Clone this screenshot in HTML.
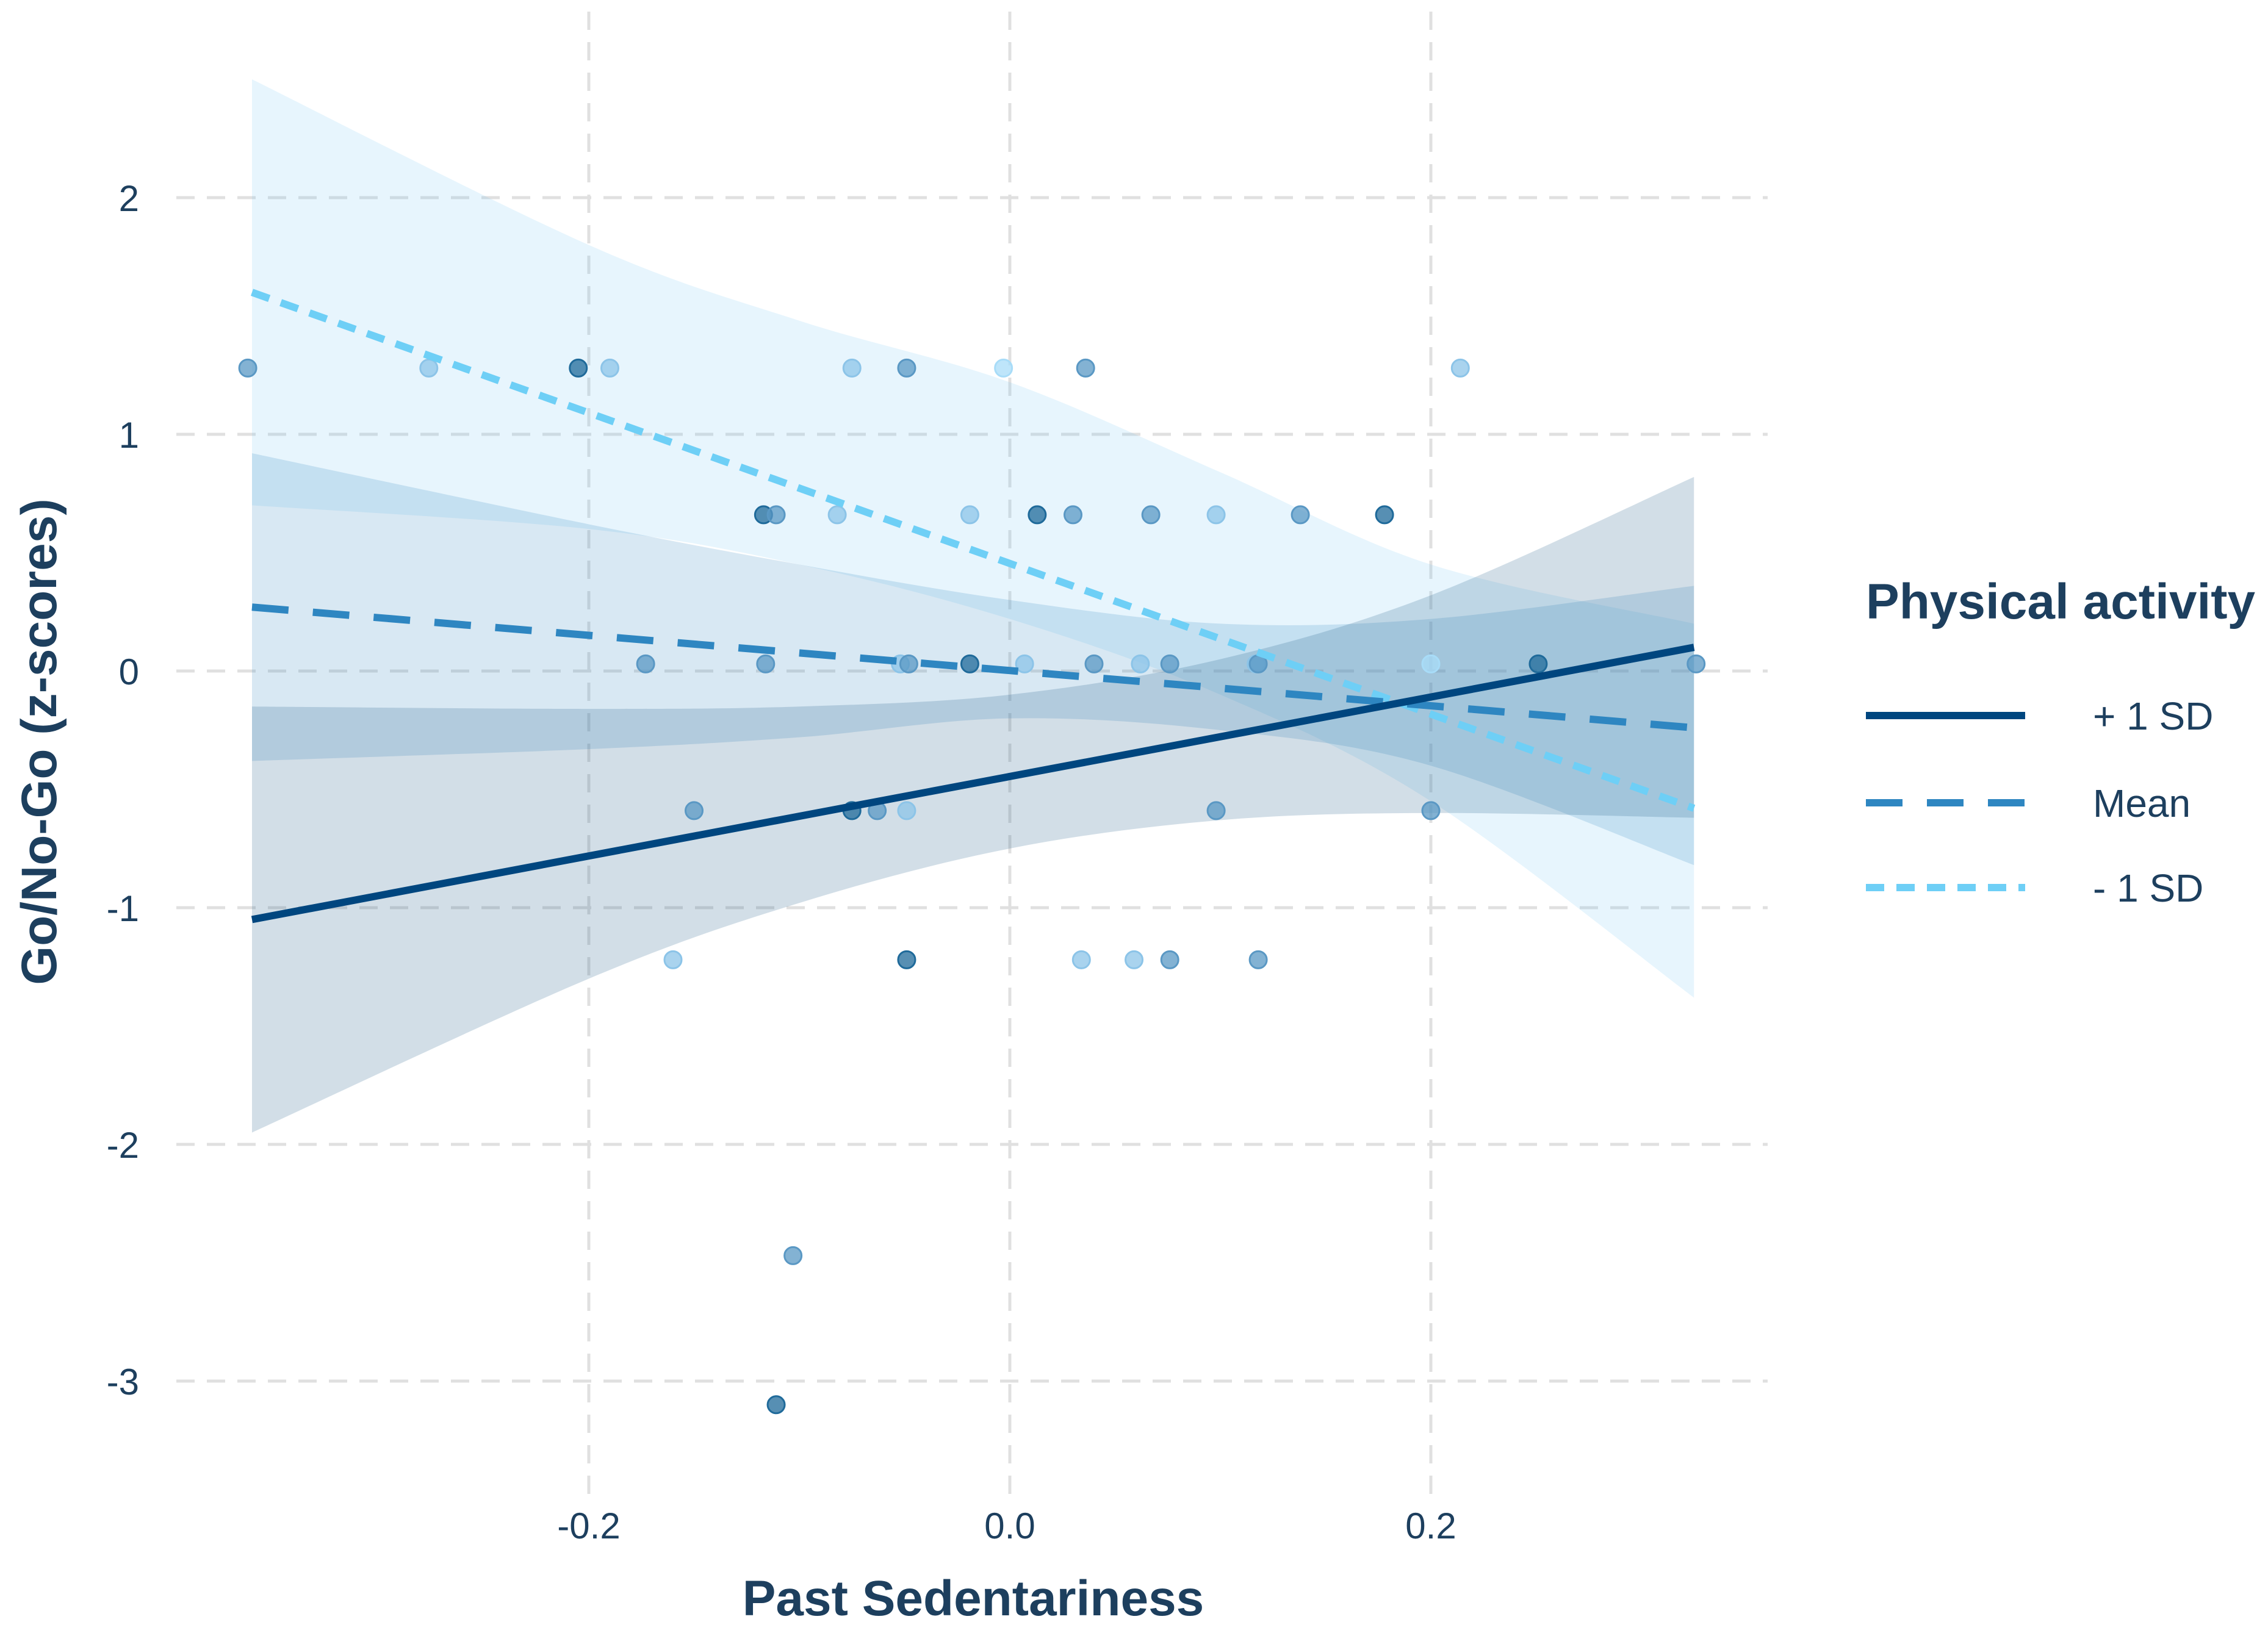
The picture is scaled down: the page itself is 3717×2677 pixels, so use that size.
<!DOCTYPE html>
<html><head><meta charset="utf-8"><style>
html,body{margin:0;padding:0;background:#fff;}
svg{display:block;font-family:"Liberation Sans",sans-serif;}
</style></head><body>
<svg id="chart" width="3717" height="2677" viewBox="0 0 3717 2677" xmlns="http://www.w3.org/2000/svg">
<g id="grid"></g>
<g id="ribbons"></g>
<g id="points"></g>
<g id="lines"></g>
<g id="axes"></g>
<text x="1595" y="2648" font-size="82" font-weight="bold" fill="#1d3f5e" text-anchor="middle">Past Sedentariness</text>
<text transform="translate(92,1216) rotate(-90)" font-size="82" font-weight="bold" fill="#1d3f5e" text-anchor="middle">Go/No-Go (z-scores)</text>
<g>
<text x="3058" y="1014" font-size="82" font-weight="bold" fill="#1d3f5e">Physical activity</text>
<line x1="3058" y1="1173" x2="3319" y2="1173" stroke="#00467f" stroke-width="12"/>
<text x="3430" y="1196" font-size="64" fill="#1d3f5e">+ 1 SD</text>
<line x1="3058" y1="1316" x2="3319" y2="1316" stroke="#2e86c1" stroke-width="12" stroke-dasharray="60,40"/>
<text x="3430" y="1339" font-size="64" fill="#1d3f5e">Mean</text>
<line x1="3058" y1="1455" x2="3319" y2="1455" stroke="#6ecff6" stroke-width="12" stroke-dasharray="30,20"/>
<text x="3430" y="1478" font-size="64" fill="#1d3f5e">- 1 SD</text>
</g>
</svg>
<script>
const xTicks=[-0.2,0.0,0.2];
const xTickLabels=["-0.2","0.0","0.2"];
const yTicks=[2,1,0,-1,-2,-3];
const yTickLabels=["2","1","0","-1","-2","-3"];
const bandX=[-0.36,-0.2,-0.1,0,0.1,0.2,0.325];
const lowUpper=[2.5,1.8,1.48,1.22,0.84,0.45,0.2];
const lowLower=[0.7,0.6,0.45,0.22,-0.1,-0.55,-1.38];
const meanUpper=[0.92,0.62,0.45,0.3,0.2,0.22,0.36];
const meanLower=[-0.38,-0.33,-0.28,-0.2,-0.25,-0.4,-0.82];
const highUpper=[-0.15,-0.16,-0.15,-0.1,0.05,0.32,0.82];
const highLower=[-1.95,-1.3,-0.98,-0.75,-0.63,-0.6,-0.62];
const lineX=[-0.36,0.325];
const highLine=[-1.05,0.1];
const meanLine=[0.27,-0.24];
const lowLine=[1.6,-0.58];
const ptX=[-0.362,-0.276,-0.205,-0.190,-0.075,-0.049,-0.003,0.036,0.214,
-0.117,-0.111,-0.082,-0.019,0.013,0.030,0.067,0.098,0.138,0.178,
-0.173,-0.116,-0.052,-0.048,-0.019,0.007,0.040,0.062,0.076,0.117,0.118,0.200,0.251,0.326,
-0.150,-0.075,-0.063,-0.049,0.098,0.200,
-0.160,-0.049,0.034,0.059,0.076,0.118,
-0.103,-0.111];
const ptY=[1.28,1.28,1.28,1.28,1.28,1.28,1.28,1.28,1.28,
0.66,0.66,0.66,0.66,0.66,0.66,0.66,0.66,0.66,0.66,
0.03,0.03,0.03,0.03,0.03,0.03,0.03,0.03,0.03,0.03,0.03,0.03,0.03,0.03,
-0.59,-0.59,-0.59,-0.59,-0.59,-0.59,
-1.22,-1.22,-1.22,-1.22,-1.22,-1.22,
-2.47,-3.1];
const ptGroup=[1,2,0,2,2,1,3,1,2, 0,1,2,2,0,1,1,2,1,0, 1,1,2,1,0,2,1,2,1,2,1,3,0,1, 1,0,1,2,1,1, 2,0,2,2,1,1, 1,0];
const groupColors=["#1f6a9a","#5a98c4","#8cc4e8","#a8dcf8"];
const NS="http://www.w3.org/2000/svg";
const xs=v=>1655+v*3450;
const ys=v=>1100-v*388;
function mk(tag,attrs,parent){const e=document.createElementNS(NS,tag);for(const k in attrs)e.setAttribute(k,attrs[k]);parent.appendChild(e);return e;}
const grid=document.getElementById('grid');
yTicks.forEach((t,i)=>{
 const l=mk('line',{x1:289,x2:2897,y1:ys(t),y2:ys(t),stroke:'#e0e0e0','stroke-width':5,'stroke-dasharray':'30,20'},grid);
 
 
 const tx=mk('text',{x:228,y:ys(t)+22,'font-size':60,fill:'#1d3f5e','text-anchor':'end'},document.getElementById('axes'));
 tx.textContent=yTickLabels[i];
 
 
});
xTicks.forEach((t,i)=>{
 const l=mk('line',{x1:xs(t),x2:xs(t),y1:19,y2:2465,stroke:'#e0e0e0','stroke-width':5,'stroke-dasharray':'30,20'},grid);
 
 
 const tx=mk('text',{x:xs(t),y:2522,'font-size':60,fill:'#1d3f5e','text-anchor':'middle'},document.getElementById('axes'));
 tx.textContent=xTickLabels[i];
 
 
});
function smooth(pts){
 let d='';
 for(let i=0;i<pts.length-1;i++){
  const p0=pts[Math.max(i-1,0)],p1=pts[i],p2=pts[i+1],p3=pts[Math.min(i+2,pts.length-1)];
  const c1=[p1[0]+(p2[0]-p0[0])/6,p1[1]+(p2[1]-p0[1])/6];
  const c2=[p2[0]-(p3[0]-p1[0])/6,p2[1]-(p3[1]-p1[1])/6];
  d+=' C'+c1+' '+c2+' '+p2;
 }
 return d;
}
function band(up,lo,fill,op,name){
 const u=bandX.map((x,i)=>[xs(x),ys(up[i])]);
 const l=bandX.map((x,i)=>[xs(x),ys(lo[i])]).reverse();
 const d='M'+u[0]+smooth(u)+' L'+l[0]+smooth(l)+'Z';
 const p=mk('path',{d:d,fill:fill,'fill-opacity':op},document.getElementById('ribbons'));
 
 
}
band(lowUpper,lowLower,'#7cc8f2',0.18,'ci-band-minus-1sd');
band(meanUpper,meanLower,'#3c8cc4',0.2,'ci-band-mean');
band(highUpper,highLower,'#1d5a85',0.2,'ci-band-plus-1sd');
const pts=document.getElementById('points');
ptX.forEach((x,i)=>{
 const c=mk('circle',{cx:xs(x),cy:ys(ptY[i]),r:14,fill:groupColors[ptGroup[i]],'fill-opacity':0.75,stroke:groupColors[ptGroup[i]],'stroke-width':3},pts);
 
 
});
function ln(vals,color,dash,name){
 const l=mk('line',{x1:xs(lineX[0]),y1:ys(vals[0]),x2:xs(lineX[1]),y2:ys(vals[1]),stroke:color,'stroke-width':12},document.getElementById('lines'));
 if(dash)l.setAttribute('stroke-dasharray',dash);
 
 
}
ln(lowLine,'#6ecff6','30,20','line-minus-1sd');
ln(meanLine,'#2e86c1','60,40','line-mean');
ln(highLine,'#00467f',null,'line-plus-1sd');
</script>
</body></html>
